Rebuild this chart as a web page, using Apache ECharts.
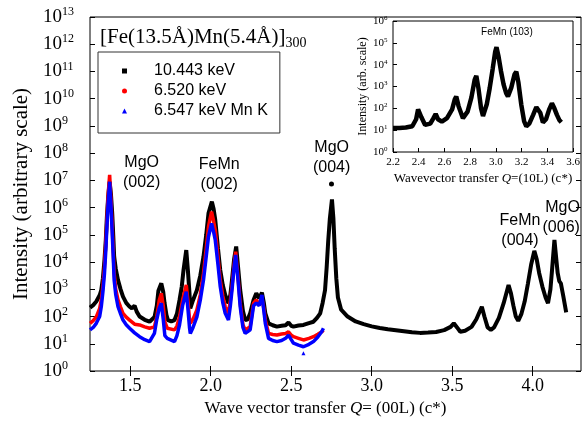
<!DOCTYPE html>
<html>
<head>
<meta charset="utf-8">
<script src="https://cdn.jsdelivr.net/npm/echarts@6/dist/echarts.min.js"></script>
<style>
  html, body { margin: 0; padding: 0; background: #fff; }
  #chart { width: 587px; height: 437px; }
</style>
</head>
<body>
<div id="chart"></div>
<script>
// values are [Q, log10(intensity)]
const black10443 = [
  [1.25, 2.33], [1.27, 2.42], [1.289, 2.55], [1.31, 2.78], [1.32, 2.97], [1.33, 3.4], [1.34, 4.08],
  [1.348, 4.8], [1.355, 5.67], [1.363, 6.4], [1.372, 6.95], [1.38, 6.5], [1.388, 5.79], [1.395, 4.9],
  [1.40, 4.2], [1.41, 3.75], [1.424, 3.34], [1.44, 3.0], [1.455, 2.73], [1.475, 2.5], [1.496, 2.36],
  [1.51, 2.3], [1.527, 2.4], [1.54, 2.18], [1.558, 2.0], [1.59, 1.88], [1.62, 1.81], [1.651, 1.99],
  [1.665, 2.4], [1.675, 2.95], [1.693, 3.22], [1.705, 2.9], [1.713, 2.5], [1.725, 2.05], [1.734, 1.87],
  [1.755, 1.82], [1.775, 1.87], [1.79, 2.1], [1.806, 2.6], [1.82, 3.1], [1.831, 3.71], [1.848, 4.44],
  [1.858, 3.7], [1.868, 2.85], [1.873, 2.3], [1.89, 2.6], [1.914, 2.97], [1.935, 3.5], [1.955, 4.2],
  [1.972, 5.0], [1.986, 5.79], [2.007, 6.22], [2.018, 5.95], [2.028, 5.55], [2.045, 4.5], [2.059, 3.71],
  [2.075, 3.15], [2.09, 2.79], [2.11, 2.49], [2.122, 2.8], [2.132, 3.34], [2.145, 4.1], [2.158, 4.57],
  [2.17, 3.8], [2.183, 2.97], [2.2, 2.2], [2.214, 1.87], [2.23, 1.9], [2.245, 2.12], [2.266, 2.61],
  [2.283, 2.85], [2.301, 2.67], [2.318, 2.88], [2.33, 2.5], [2.339, 2.12], [2.359, 1.75], [2.385, 1.68],
  [2.411, 1.63], [2.44, 1.66], [2.465, 1.68], [2.483, 1.78], [2.5, 1.66], [2.514, 1.63], [2.545, 1.67],
  [2.576, 1.69], [2.61, 1.76], [2.638, 1.81], [2.66, 1.95], [2.68, 2.12], [2.695, 2.5], [2.71, 2.97],
  [2.72, 3.8], [2.73, 4.8], [2.74, 5.6], [2.753, 6.3], [2.762, 5.6], [2.77, 4.5], [2.78, 3.4],
  [2.79, 2.7], [2.81, 2.25], [2.85, 2.0], [2.9, 1.82], [2.95, 1.72], [3.0, 1.64], [3.05, 1.58],
  [3.1, 1.53], [3.15, 1.5], [3.2, 1.46], [3.25, 1.42], [3.3, 1.4], [3.35, 1.41], [3.4, 1.43],
  [3.45, 1.5], [3.49, 1.62], [3.51, 1.75], [3.53, 1.6], [3.55, 1.44], [3.58, 1.48], [3.62, 1.62],
  [3.65, 1.9], [3.668, 2.15], [3.684, 2.36], [3.70, 2.0], [3.72, 1.6], [3.74, 1.51], [3.76, 1.6],
  [3.79, 1.95], [3.82, 2.5], [3.85, 3.16], [3.865, 2.85], [3.88, 2.4], [3.895, 2.0], [3.91, 1.84],
  [3.93, 2.1], [3.95, 2.55], [3.97, 3.2], [3.99, 3.9], [4.01, 4.41], [4.025, 4.1], [4.04, 3.6],
  [4.06, 3.1], [4.08, 2.7], [4.095, 2.49], [4.11, 3.0], [4.12, 3.7], [4.135, 4.81], [4.145, 4.2],
  [4.155, 3.6], [4.165, 3.3], [4.175, 3.22], [4.19, 2.75], [4.208, 2.15]
];

const red6520 = [
  [1.25, 1.75], [1.27, 1.85], [1.289, 1.99], [1.31, 2.3], [1.32, 2.61], [1.33, 3.1], [1.34, 3.83],
  [1.348, 4.7], [1.355, 5.55], [1.363, 6.5], [1.372, 7.2], [1.38, 6.3], [1.388, 5.3], [1.395, 4.3],
  [1.40, 3.59], [1.41, 3.0], [1.424, 2.61], [1.44, 2.35], [1.455, 2.12], [1.475, 1.98], [1.496, 1.87],
  [1.527, 1.72], [1.558, 1.69], [1.59, 1.62], [1.62, 1.57], [1.65, 1.62], [1.665, 2.0], [1.68, 2.6],
  [1.693, 2.85], [1.705, 2.4], [1.715, 1.8], [1.73, 1.57], [1.775, 1.51], [1.79, 1.65], [1.806, 1.99],
  [1.825, 2.6], [1.848, 3.16], [1.858, 2.6], [1.868, 1.9], [1.873, 1.75], [1.89, 1.9], [1.914, 2.24],
  [1.935, 2.8], [1.955, 3.59], [1.972, 4.5], [1.986, 5.3], [2.005, 5.85], [2.018, 5.5], [2.028, 5.18],
  [2.045, 4.2], [2.059, 3.34], [2.075, 2.75], [2.09, 2.36], [2.11, 2.12], [2.122, 2.6], [2.132, 3.1],
  [2.145, 3.9], [2.155, 4.38], [2.17, 3.4], [2.183, 2.49], [2.2, 1.7], [2.214, 1.51], [2.245, 1.63],
  [2.266, 2.49], [2.283, 2.61], [2.301, 2.45], [2.318, 2.67], [2.33, 2.3], [2.339, 1.87], [2.359, 1.38],
  [2.385, 1.34], [2.411, 1.32], [2.44, 1.36], [2.465, 1.38], [2.483, 1.44], [2.5, 1.32], [2.514, 1.26],
  [2.545, 1.2], [2.576, 1.14], [2.61, 1.2], [2.638, 1.26], [2.665, 1.35], [2.69, 1.44], [2.70, 1.5]
];

const blue6547 = [
  [1.25, 1.51], [1.27, 1.6], [1.289, 1.75], [1.31, 2.0], [1.32, 2.36], [1.33, 2.9], [1.34, 3.59],
  [1.348, 4.4], [1.355, 5.3], [1.363, 6.2], [1.372, 6.95], [1.38, 6.1], [1.388, 5.06], [1.395, 4.1],
  [1.40, 3.34], [1.41, 2.8], [1.424, 2.36], [1.44, 2.1], [1.455, 1.87], [1.475, 1.7], [1.496, 1.57],
  [1.527, 1.4], [1.558, 1.26], [1.59, 1.15], [1.62, 1.08], [1.65, 1.38], [1.665, 1.9], [1.68, 2.3],
  [1.693, 2.49], [1.705, 1.9], [1.715, 1.3], [1.73, 1.2], [1.775, 1.08], [1.79, 1.3], [1.806, 1.69],
  [1.825, 2.4], [1.848, 2.91], [1.858, 2.3], [1.868, 1.6], [1.873, 1.38], [1.89, 1.6], [1.914, 1.99],
  [1.935, 2.6], [1.955, 3.34], [1.972, 4.2], [1.986, 4.93], [2.005, 5.42], [2.018, 5.1], [2.028, 4.81],
  [2.045, 3.9], [2.059, 3.1], [2.075, 2.5], [2.09, 2.12], [2.11, 1.87], [2.122, 2.4], [2.132, 2.97],
  [2.145, 3.8], [2.155, 4.26], [2.17, 3.3], [2.183, 2.36], [2.2, 1.6], [2.214, 1.38], [2.245, 1.51],
  [2.266, 2.4], [2.283, 2.5], [2.301, 2.4], [2.318, 2.79], [2.33, 2.2], [2.339, 1.75], [2.359, 1.2],
  [2.385, 1.12], [2.411, 1.08], [2.44, 1.12], [2.465, 1.2], [2.483, 1.32], [2.5, 1.15], [2.514, 1.02],
  [2.545, 0.95], [2.576, 0.89], [2.61, 0.98], [2.638, 1.08], [2.665, 1.25], [2.69, 1.45], [2.70, 1.57]
];

const strayBlack = [[2.75, 6.87]];
const strayBlue = [[2.576, 0.65]];

// inset: FeMn (103) rod, [Q, log10(intensity)]
const inset103 = [
  [2.2, 1.1], [2.25, 1.1], [2.3, 1.12], [2.35, 1.18], [2.38, 1.5], [2.395, 1.95], [2.407, 2.0],
  [2.42, 1.6], [2.45, 1.24], [2.49, 1.3], [2.515, 1.55], [2.532, 1.74], [2.55, 1.5], [2.58, 1.39],
  [2.62, 1.55], [2.66, 1.95], [2.68, 2.4], [2.692, 2.54], [2.71, 2.1], [2.744, 1.55], [2.78, 1.85],
  [2.81, 2.5], [2.835, 3.3], [2.848, 3.49], [2.865, 2.9], [2.885, 2.0], [2.9, 1.65], [2.93, 2.2],
  [2.952, 2.92], [2.975, 3.8], [2.995, 4.6], [3.005, 4.8], [3.02, 4.4], [3.04, 3.7], [3.06, 3.1],
  [3.08, 2.7], [3.094, 2.55], [3.12, 2.95], [3.145, 3.55], [3.159, 3.68], [3.175, 3.2], [3.198, 2.16],
  [3.22, 1.4], [3.237, 1.18], [3.26, 1.3], [3.29, 1.7], [3.315, 2.05], [3.328, 2.11], [3.345, 1.8],
  [3.366, 1.35], [3.39, 1.5], [3.415, 1.95], [3.436, 2.23], [3.455, 2.0], [3.475, 1.7], [3.495, 1.45],
  [3.509, 1.36]
];

const xTicks = [1.5, 2.0, 2.5, 3.0, 3.5, 4.0];
const yDecades = [0, 1, 2, 3, 4, 5, 6, 7, 8, 9, 10, 11, 12, 13];
const insetXTicks = [2.2, 2.4, 2.6, 2.8, 3.0, 3.2, 3.4, 3.6];
const insetYDecades = [0, 1, 2, 3, 4, 5, 6];

const peakNames = ['MgO\n(002)', 'FeMn\n(002)', 'MgO\n(004)', 'FeMn\n(004)', 'MgO\n(006)'];
const peakQ = [1.571, 2.053, 2.751, 3.921, 4.293];
const peakLogI = [7.30, 7.23, 7.84, 5.15, 5.62];
const peakAlign = ['center', 'center', 'center', 'center', 'right'];

const serif = 'Liberation Serif';
const sans = 'Liberation Sans';

const chart = echarts.init(document.getElementById('chart'));

function powLabel(values, size, supSize, pad, margin) {
  return {
    show: true,
    customValues: values,
    align: 'left',
    margin: margin,
    formatter: (v) => '{b|10}{s|' + Math.round(v) + '}',
    rich: {
      b: { fontFamily: serif, fontSize: size, color: '#000' },
      s: { fontFamily: serif, fontSize: supSize, color: '#000', padding: [0, 0, pad, 0] }
    }
  };
}

function ticks(values, len) {
  return { show: true, inside: true, length: len, customValues: values, lineStyle: { color: '#000', width: 1 } };
}

function noLine() {
  return { show: false };
}

chart.setOption({
  animation: false,
  backgroundColor: '#fff',
  title: {
    text: '[Fe(13.5Å)Mn(5.4Å)]{sub|300}',
    left: 100,
    top: 24,
    padding: 0,
    textStyle: {
      fontFamily: serif, fontSize: 21, fontWeight: 'normal', color: '#000',
      rich: { sub: { fontFamily: serif, fontSize: 14, color: '#000', padding: [12, 0, 0, 0] } }
    }
  },
  legend: {
    orient: 'vertical',
    left: 98,
    top: 52,
    padding: [11, 12, 14, 24],
    itemWidth: 5,
    itemHeight: 5,
    itemGap: 4,
    borderColor: '#333',
    borderWidth: 1,
    selectedMode: false,
    textStyle: { fontFamily: sans, fontSize: 16, color: '#000', padding: [0, 0, 0, 22] },
    data: [
      { name: '10.443 keV', icon: 'rect' },
      { name: '6.520 keV', icon: 'circle' },
      { name: '6.547 keV Mn K', icon: 'triangle' }
    ]
  },
  grid: [
    { left: 90, right: 6, top: 17, bottom: 66, show: true, borderColor: '#000', borderWidth: 1 },
    { left: 393, right: 14, top: 21, bottom: 285, show: true, borderColor: '#000', borderWidth: 1 }
  ],
  xAxis: [
    {
      gridIndex: 0, type: 'value', min: 1.25, max: 4.3, position: 'bottom',
      axisLine: noLine(),
      axisTick: ticks(xTicks, 5),
      axisLabel: {
        show: true, customValues: xTicks, formatter: (v) => v.toFixed(1), margin: 6,
        fontFamily: serif, fontSize: 18, color: '#000'
      },
      splitLine: { show: false },
      name: 'Wave vector transfer {i|Q}= (00L) (c*)',
      nameLocation: 'middle',
      nameGap: 27,
      nameTextStyle: {
        fontFamily: serif, fontSize: 17, color: '#000', padding: [0, 20, 0, 0],
        rich: { i: { fontFamily: serif, fontSize: 17, fontStyle: 'italic', color: '#000' } }
      }
    },
    {
      gridIndex: 0, type: 'value', min: 1.25, max: 4.3, position: 'top',
      axisLine: noLine(),
      axisTick: ticks(xTicks, 5),
      axisLabel: { show: false },
      splitLine: { show: false }
    },
    {
      gridIndex: 1, type: 'value', min: 2.2, max: 3.6,
      axisLine: noLine(),
      axisTick: ticks(insetXTicks, 4),
      axisLabel: {
        show: true, customValues: insetXTicks, formatter: (v) => v.toFixed(1), margin: 5,
        fontFamily: serif, fontSize: 11, color: '#000'
      },
      splitLine: { show: false },
      name: 'Wavevector transfer {i|Q}=(10L) (c*)',
      nameLocation: 'middle',
      nameGap: 20,
      nameTextStyle: {
        fontFamily: serif, fontSize: 13, color: '#000',
        rich: { i: { fontFamily: serif, fontSize: 13, fontStyle: 'italic', color: '#000' } }
      }
    }
  ],
  yAxis: [
    {
      gridIndex: 0, type: 'value', min: 0, max: 13,
      axisLine: noLine(),
      axisTick: ticks(yDecades, 5),
      axisLabel: powLabel(yDecades, 19, 12, 10, 47),
      splitLine: { show: false },
      name: 'Intensity (arbitrary scale)',
      nameLocation: 'middle',
      nameGap: 56,
      nameTextStyle: { fontFamily: serif, fontSize: 21, color: '#000' }
    },
    {
      gridIndex: 0, type: 'value', min: 0, max: 13, position: 'right',
      axisLine: noLine(),
      axisTick: ticks(yDecades, 5),
      axisLabel: { show: false },
      splitLine: { show: false }
    },
    {
      gridIndex: 1, type: 'value', min: 0, max: 6,
      axisLine: noLine(),
      axisTick: ticks(insetYDecades, 4),
      axisLabel: powLabel(insetYDecades, 11, 7, 6, 20),
      splitLine: { show: false },
      name: 'Intensity (arb. scale)',
      nameLocation: 'middle',
      nameGap: 21,
      nameTextStyle: { fontFamily: serif, fontSize: 12, color: '#000' }
    }
  ],
  series: [
    {
      name: '10.443 keV', type: 'line', xAxisIndex: 0, yAxisIndex: 0,
      data: black10443, showSymbol: false, color: '#000',
      lineStyle: { width: 4, color: '#000' }, z: 2
    },
    {
      name: '6.520 keV', type: 'line', xAxisIndex: 0, yAxisIndex: 0,
      data: red6520, showSymbol: false, color: '#ff0000',
      lineStyle: { width: 3.5, color: '#ff0000' }, z: 3
    },
    {
      name: '6.547 keV Mn K', type: 'line', xAxisIndex: 0, yAxisIndex: 0,
      data: blue6547, showSymbol: false, color: '#0000ff',
      lineStyle: { width: 3.5, color: '#0000ff' }, z: 4
    },
    {
      type: 'scatter', xAxisIndex: 0, yAxisIndex: 0, data: strayBlack,
      symbol: 'circle', symbolSize: 5, itemStyle: { color: '#000', opacity: 1 }, z: 5
    },
    {
      type: 'scatter', xAxisIndex: 0, yAxisIndex: 0, data: strayBlue,
      symbol: 'triangle', symbolSize: 4, itemStyle: { color: '#0000ff', opacity: 1 }, z: 5
    },
    {
      type: 'scatter', xAxisIndex: 0, yAxisIndex: 0, symbolSize: 0, silent: true, z: 6,
      itemStyle: { opacity: 1 },
      data: peakNames.map((t, i) => ({
        value: [peakQ[i], peakLogI[i]],
        label: { formatter: t, align: peakAlign[i], color: '#000' }
      })),
      label: {
        show: true, position: 'inside', fontFamily: sans, fontSize: 16, lineHeight: 20,
        color: '#000', opacity: 1
      }
    },
    {
      type: 'line', xAxisIndex: 2, yAxisIndex: 2,
      data: inset103, showSymbol: false,
      lineStyle: { width: 4.5, color: '#000' }
    },
    {
      type: 'scatter', xAxisIndex: 2, yAxisIndex: 2, symbolSize: 0, silent: true,
      itemStyle: { opacity: 1 },
      data: [{ value: [3.086, 5.5], label: { formatter: 'FeMn (103)', color: '#000' } }],
      label: { show: true, position: 'inside', fontFamily: sans, fontSize: 10, color: '#000', opacity: 1 }
    }
  ]
});
</script>
</body>
</html>
